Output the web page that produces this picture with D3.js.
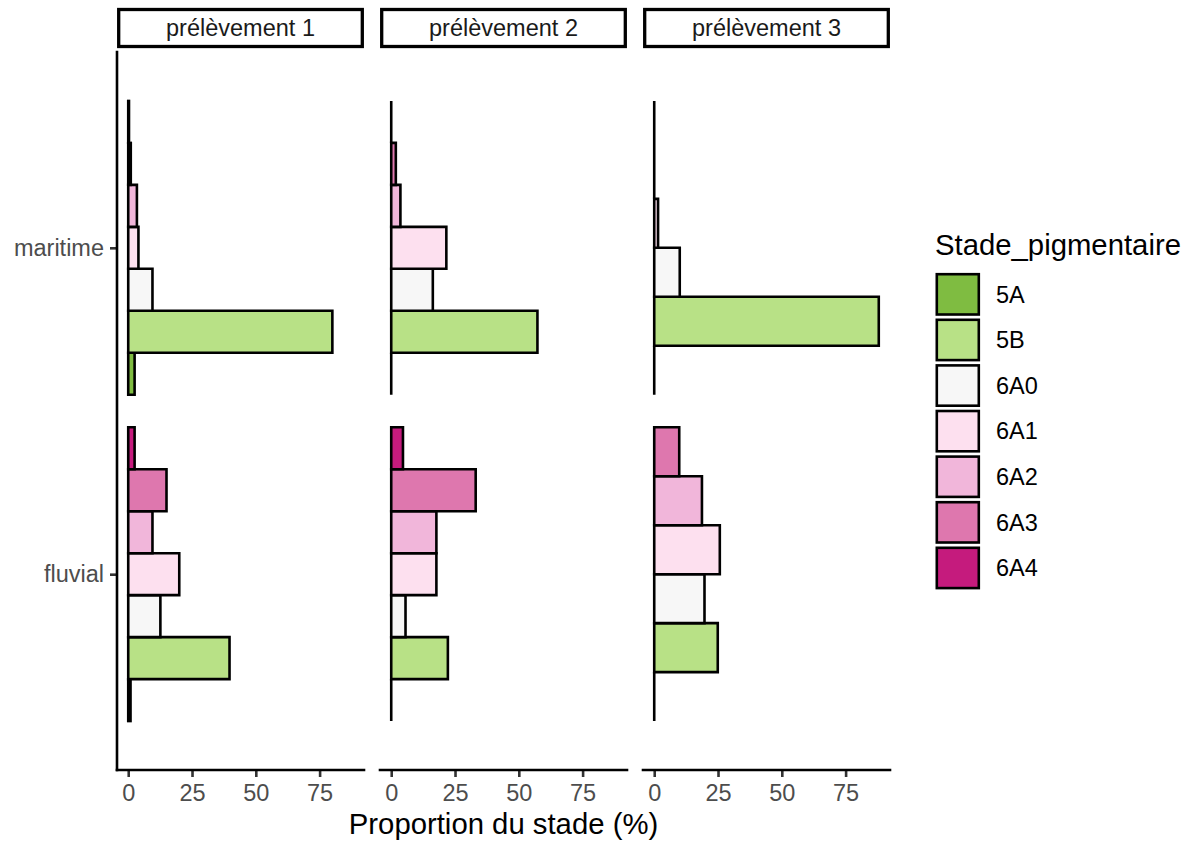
<!DOCTYPE html>
<html>
<head>
<meta charset="utf-8">
<script src="https://cdn.jsdelivr.net/npm/d3@7"></script>
<style>
  html, body { margin: 0; padding: 0; background: #ffffff; }
  svg { display: block; font-family: "Liberation Sans", Arial, Helvetica, sans-serif; }
</style>
</head>
<body>
<svg id="chart" width="1191" height="841"></svg>
<script>
// ---- data ----
const stages = ["5A", "5B", "6A0", "6A1", "6A2", "6A3", "6A4"];
const stageColors = ["#7FBC41", "#B8E186", "#F7F7F7", "#FDE0EF", "#F1B6DA", "#DE77AE", "#C51B7D"];
const sites = ["fluvial", "maritime"];
const prelevements = ["prélèvement 1", "prélèvement 2", "prélèvement 3"];
const xTicks = [0, 25, 50, 75];

// proportion (%) per stage, order of `stages`; null = stage absent in that sample
const p1_maritime = [2.5, 80, 9.5, 4, 3.4, 1, 0.3];
const p1_fluvial  = [0.9, 39.7, 12.6, 20, 9.5, 15, 2.5];
const p2_maritime = [0, 57.3, 16.3, 21.6, 3.6, 1.8, 0];
const p2_fluvial  = [0, 22.2, 5.6, 17.7, 17.7, 33.1, 4.6];
const p3_maritime = [0, 88, 10, 1.5, 0, 0, null];
const p3_fluvial  = [0, 24.9, 19.7, 25.7, 18.7, 9.8, null];

const panelValues = [
  { maritime: p1_maritime, fluvial: p1_fluvial },
  { maritime: p2_maritime, fluvial: p2_fluvial },
  { maritime: p3_maritime, fluvial: p3_fluvial }
];

// ---- layout ----
const svg = d3.select("#chart");
const panelTop = 52, panelBottom = 770;
const panelW = 247, panelGap = 16, firstLeft = 117;
const strokeW = 2.6;
const smallFont = 23.5, bigFont = 29.3;

const color = d3.scaleOrdinal().domain(stages).range(stageColors);

const maxVal = d3.max(panelValues.flatMap(p => [...p.maritime, ...p.fluvial]).filter(v => v != null));
const pad = maxVal * 0.05;

// y: discrete positions, ggplot-like expansion of 0.6 units
const yPos = d3.scaleLinear().domain([0.4, 2.6]).range([panelBottom, panelTop]);
const siteIndex = d3.scaleOrdinal().domain(sites).range([1, 2]);

prelevements.forEach((pname, pi) => {
  const left = firstLeft + pi * (panelW + panelGap);
  const x = d3.scaleLinear().domain([-pad, maxVal + pad]).range([left, left + panelW]);
  const g = svg.append("g");

  // bars
  sites.forEach(site => {
    const vals = panelValues[pi][site];
    const present = stages.map((s, i) => ({ stage: s, value: vals[i] })).filter(d => d.value != null);
    const center = siteIndex(site);
    const inner = d3.scaleBand().domain(present.map(d => d.stage))
      .range([center - 0.45, center + 0.45]).paddingInner(0).paddingOuter(0);
    present.forEach(d => {
      const ya = yPos(inner(d.stage));
      const yb = yPos(inner(d.stage) + inner.bandwidth());
      const x0 = x(0), x1 = x(d.value);
      g.append("path")
        .attr("d", `M${x0},${ya}H${x1}V${yb}H${x0}Z`)
        .attr("fill", color(d.stage))
        .attr("stroke", "#000")
        .attr("stroke-width", strokeW)
        .attr("stroke-linejoin", "miter");
    });
  });

  // x axis
  const xa = g.append("g").attr("transform", `translate(0,${panelBottom})`);
  xa.call(d3.axisBottom(x).tickValues(xTicks).tickSize(7).tickPadding(6).tickFormat(d3.format("d")));
  xa.select(".domain").remove();
  xa.append("line").attr("x1", left).attr("x2", left + panelW).attr("y1", 0).attr("y2", 0)
    .attr("stroke", "#000").attr("stroke-width", strokeW).attr("stroke-linecap", "square");
  xa.selectAll(".tick line").attr("stroke", "#333333").attr("stroke-width", strokeW);
  xa.selectAll(".tick text").attr("fill", "#4D4D4D").attr("font-size", smallFont)
    .attr("font-family", "Liberation Sans, Arial, sans-serif").attr("dy", "0.76em");

  // strip
  g.append("rect").attr("x", left + 1.7).attr("y", 9.5).attr("width", panelW - 3.4).attr("height", 37)
    .attr("fill", "#fff").attr("stroke", "#000").attr("stroke-width", 3.3);
  g.append("text").attr("x", left + panelW / 2).attr("y", 28).attr("dy", "0.35em")
    .attr("text-anchor", "middle").attr("font-size", smallFont).attr("fill", "#1A1A1A").text(pname);
});

// y axis (first panel only)
const ya = svg.append("g").attr("transform", `translate(${firstLeft},0)`);
const yBand = d3.scaleOrdinal().domain(sites).range(sites.map(s => yPos(siteIndex(s))));
ya.call(d3.axisLeft(yBand).tickSize(7).tickPadding(6));
ya.select(".domain").remove();
ya.append("line").attr("x1", 0).attr("x2", 0).attr("y1", panelTop).attr("y2", panelBottom)
  .attr("stroke", "#000").attr("stroke-width", strokeW).attr("stroke-linecap", "square");
ya.selectAll(".tick line").attr("stroke", "#333333").attr("stroke-width", strokeW);
ya.selectAll(".tick text").attr("fill", "#4D4D4D").attr("font-size", smallFont)
  .attr("font-family", "Liberation Sans, Arial, sans-serif");

// x axis title
svg.append("text").attr("x", firstLeft + (3 * panelW + 2 * panelGap) / 2).attr("y", 834)
  .attr("text-anchor", "middle").attr("font-size", bigFont).attr("fill", "#000")
  .text("Proportion du stade (%)");

// legend
const lg = svg.append("g");
lg.append("text").attr("x", 935).attr("y", 255).attr("font-size", bigFont).attr("fill", "#000")
  .text("Stade_pigmentaire");
const keyStep = 45.6, keyTop = 272.7;
stages.forEach((s, i) => {
  const y0 = keyTop + i * keyStep;
  lg.append("rect").attr("x", 936.8).attr("y", y0 + 1.5).attr("width", 42).attr("height", 40.3)
    .attr("fill", color(s)).attr("stroke", "#000").attr("stroke-width", strokeW);
  lg.append("text").attr("x", 996).attr("y", y0 + 21.6).attr("dy", "0.35em")
    .attr("font-size", smallFont).attr("fill", "#000").text(s);
});
</script>
</body>
</html>
